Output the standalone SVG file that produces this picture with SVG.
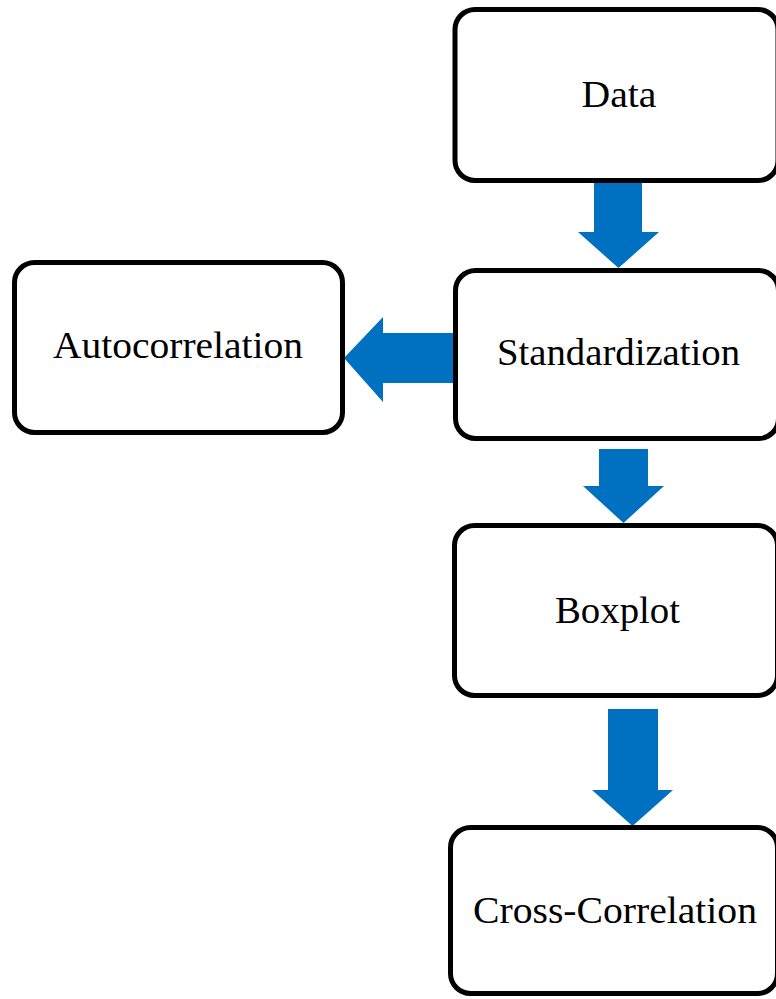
<svg xmlns="http://www.w3.org/2000/svg" width="776" height="999" viewBox="0 0 776 999">
<style>
.box{fill:#fff;stroke:#000;stroke-width:5}
.lbl{font-family:"Liberation Serif","Times New Roman",serif;font-size:37px;fill:#000;text-anchor:middle}
.arr{fill:#0070C0}
</style>
<rect width="776" height="999" fill="#fff"/>
<g id="connectors">
<polygon class="arr" points="594,181 642,181 642,232 659,232 618.5,268 578,232 594,232"/>
<polygon class="arr" points="456,333 383,333 383,317 344,358 383,402 383,383 456,383"/>
<polygon class="arr" points="599,449 648,449 648,486 664,486 623.5,523 583,486 599,486"/>
<polygon class="arr" points="608,709 658,709 658,790 673,790 632.5,826 592,790 608,790"/>
</g>
<g id="data">
<rect class="box" x="455" y="9.5" width="323" height="171" rx="20"/>
<text class="lbl" x="619" y="107" textLength="75" lengthAdjust="spacingAndGlyphs">Data</text>
</g>
<g id="standardization">
<rect class="box" x="455.5" y="270.5" width="323" height="168" rx="20"/>
<text class="lbl" x="618.5" y="365" textLength="243" lengthAdjust="spacingAndGlyphs">Standardization</text>
</g>
<g id="autocorrelation">
<rect class="box" x="14.5" y="262.5" width="328" height="170" rx="20"/>
<text class="lbl" x="178" y="358" textLength="250" lengthAdjust="spacingAndGlyphs">Autocorrelation</text>
</g>
<g id="boxplot">
<rect class="box" x="454.5" y="525.5" width="323" height="170" rx="20"/>
<text class="lbl" x="617.5" y="623" textLength="125" lengthAdjust="spacingAndGlyphs">Boxplot</text>
</g>
<g id="cross-correlation">
<rect class="box" x="450.5" y="827.5" width="327" height="166" rx="20"/>
<text class="lbl" x="615" y="923" textLength="284" lengthAdjust="spacingAndGlyphs">Cross-Correlation</text>
</g>
</svg>
